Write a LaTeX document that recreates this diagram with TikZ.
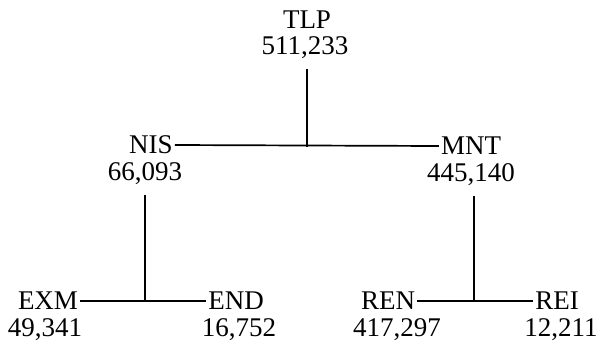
\documentclass[tikz,border=0pt]{standalone}
\usepackage{fontspec}
\setmainfont{Liberation Serif}
\tikzset{
  unitname/.style={inner sep=2pt, font=\fontsize{27}{27}\selectfont},
  unitcount/.style={inner sep=2pt, font=\fontsize{27}{27}\selectfont},
  link/.style={line width=1.7pt, black}
}

\begin{document}
\begin{tikzpicture}[x=1pt, y=-1pt]
  \useasboundingbox (0,0) rectangle (601,354);
  % top level
  \node[unitname] (tlp) at (307,20) {TLP};
  \node[unitcount] (tlpn) at (305,48) {511,233};
  % second level
  \node[unitname] (nis) at (151,145) {NIS};
  \node[unitcount] (nisn) at (145,174) {66,093};
  \node[unitname] (mnt) at (471,146) {MNT};
  \node[unitcount] (mntn) at (471,175) {445,140};
  % third level
  \node[unitname] (exm) at (48,301) {EXM};
  \node[unitcount] (exmn) at (45,330) {49,341};
  \node[unitname] (end) at (236,301) {END};
  \node[unitcount] (endn) at (239,330) {16,752};
  \node[unitname] (ren) at (388,301) {REN};
  \node[unitcount] (renn) at (397,330) {417,297};
  \node[unitname] (rei) at (557,301) {REI};
  \node[unitcount] (rein) at (561,330) {12,211};
  % junctions
  \coordinate (j1) at (307,147);
  \coordinate (j2) at (145,302);
  \coordinate (j3) at (474,302);
  \draw[link] (nis.east) -- (mnt.west);
  \draw[link] (tlpn.south) ++(2,8) -- (j1);
  \draw[link] (exm.east) -- (end.west);
  \draw[link] (nisn.south) ++(0,8) -- (j2);
  \draw[link] (ren.east) -- (rei.west);
  \draw[link] (mntn.south) ++(3,8) -- (j3);
\end{tikzpicture}
\end{document}
